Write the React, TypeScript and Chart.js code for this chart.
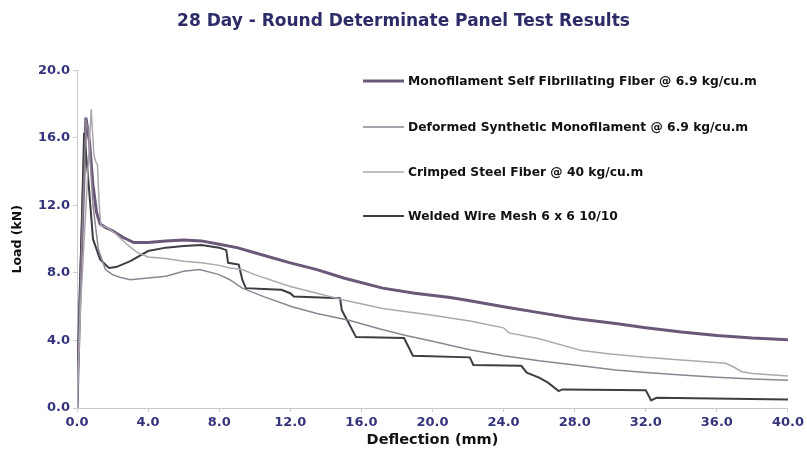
import React, { useEffect, useRef } from "react";
import { Chart, registerables } from "chart.js";

Chart.register(...registerables);

const TITLE = "28 Day - Round Determinate Panel Test Results";
const X_TITLE = "Deflection (mm)";
const Y_TITLE = "Load (kN)";

const seriesNames = [
  "Monofilament Self Fibrillating Fiber @ 6.9 kg/cu.m",
  "Deformed Synthetic Monofilament @ 6.9 kg/cu.m",
  "Crimped Steel Fiber @ 40 kg/cu.m",
  "Welded Wire Mesh 6 x 6 10/10",
];

// Monofilament self fibrillating (thick purple)
const monoX = [0, 0.15, 0.5, 0.7, 0.9, 1.1, 1.3, 1.6, 2.0, 2.6, 3.2, 4, 5, 6, 7, 8, 9, 10, 12, 13.5, 15, 17.2, 19, 21, 22.1, 24, 26, 28, 30.3, 32, 34, 36, 38, 40];
const monoY = [0, 6, 17.2, 15.8, 13.2, 11.6, 10.9, 10.7, 10.5, 10.1, 9.8, 9.8, 9.9, 9.95, 9.9, 9.7, 9.5, 9.2, 8.6, 8.2, 7.7, 7.1, 6.8, 6.55, 6.35, 6.0, 5.65, 5.3, 5.0, 4.75, 4.5, 4.3, 4.15, 4.05];

// Deformed synthetic monofilament (mid grey)
const defX = [0, 0.15, 0.5, 0.65, 0.9, 1.2, 1.6, 2.0, 2.4, 3, 4, 5, 6, 6.9, 8, 8.6, 9.3, 10.5, 12.1, 13.5, 15.3, 17, 18.5, 20, 22.1, 24, 26, 28, 30.3, 32, 34, 36, 38, 40];
const defY = [0, 6, 17.0, 16.4, 12.0, 9.4, 8.2, 7.9, 7.75, 7.6, 7.7, 7.8, 8.1, 8.2, 7.9, 7.6, 7.1, 6.6, 6.0, 5.6, 5.2, 4.7, 4.3, 3.95, 3.45, 3.1, 2.8, 2.55, 2.25, 2.1, 1.95, 1.82, 1.72, 1.65];

// Crimped steel fiber (light grey)
const steelX = [0, 0.2, 0.8, 0.95, 1.05, 1.15, 1.25, 1.35, 1.7, 2.2, 2.8, 3.4, 4, 5, 6, 7, 8, 8.6, 9.3, 10, 12, 13.5, 15, 17.2, 20, 22.1, 24, 24.3, 26, 28.4, 30, 32, 34, 36.5, 37, 37.4, 38, 40];
const steelY = [0, 6, 17.7, 15.0, 14.6, 14.4, 12.0, 10.8, 10.7, 10.3, 9.7, 9.2, 8.95, 8.85, 8.7, 8.6, 8.45, 8.3, 8.2, 7.9, 7.2, 6.8, 6.4, 5.9, 5.5, 5.15, 4.75, 4.45, 4.1, 3.4, 3.2, 3.0, 2.85, 2.65, 2.4, 2.15, 2.05, 1.9];

// Welded wire mesh (dark grey)
const meshX = [0, 0.4, 0.6, 0.9, 1.3, 1.8, 2.2, 3, 4, 5, 6, 7, 8, 8.4, 8.5, 9.1, 9.3, 9.5, 10.5, 11.5, 12.0, 12.2, 14.8, 14.9, 15.2, 15.7, 18.4, 18.9, 22.1, 22.3, 25, 25.3, 26, 26.5, 27.1, 27.3, 32.0, 32.3, 32.6, 40];
const meshY = [0, 16.3, 14.0, 10.0, 8.8, 8.3, 8.35, 8.7, 9.3, 9.5, 9.6, 9.65, 9.5, 9.35, 8.6, 8.5, 7.6, 7.1, 7.05, 7.0, 6.8, 6.6, 6.5, 5.8, 5.2, 4.2, 4.15, 3.1, 3.0, 2.55, 2.5, 2.1, 1.8, 1.5, 1.0, 1.1, 1.05, 0.45, 0.6, 0.5];

const xTicksMax = 40;
const yTicksMax = 20;
const tickStep = 4;

const seriesColors = ["#6b5878", "#8d8592", "#aca7b0", "#3f3c44"];
const seriesWidths = [3, 1.5, 1.5, 2];

const toPts = (xs: number[], ys: number[]) => xs.map((x, i) => ({ x, y: ys[i] }));

const NAVY = "#34347c";
const FONT = "'DejaVu Sans', 'Liberation Sans', Arial, sans-serif";

const legendPlugin = {
  id: "customLegend",
  afterDraw(chart: any) {
    const ctx = chart.ctx;
    const rows = [81, 127, 172, 216];
    ctx.save();
    ctx.font = `bold 12.3px ${FONT}`;
    ctx.textBaseline = "middle";
    ctx.textAlign = "left";
    seriesNames.forEach((name, i) => {
      const y = rows[i];
      ctx.strokeStyle = seriesColors[i];
      ctx.lineWidth = seriesWidths[i];
      ctx.beginPath();
      ctx.moveTo(363, y);
      ctx.lineTo(404, y);
      ctx.stroke();
      ctx.fillStyle = "#111";
      ctx.fillText(name, 408, y + 1);
    });
    ctx.restore();
  },
};

export default function App() {
  const ref = useRef<HTMLCanvasElement>(null);
  useEffect(() => {
    document.body.style.margin = "0";
    const datasets = [
      toPts(monoX, monoY),
      toPts(defX, defY),
      toPts(steelX, steelY),
      toPts(meshX, meshY),
    ].map((data, i) => ({
      label: seriesNames[i],
      data,
      borderColor: seriesColors[i],
      borderWidth: seriesWidths[i],
      pointRadius: 0,
      tension: 0,
      fill: false,
    }));
    const ordered = [datasets[2], datasets[1], datasets[3], datasets[0]];
    const chart = new Chart(ref.current!, {
      type: "line",
      data: { datasets: ordered },
      plugins: [legendPlugin],
      options: {
        animation: false,
        responsive: false,
        layout: { padding: { left: 0, right: 0, top: 0, bottom: 0 } },
        plugins: {
          legend: { display: false },
          tooltip: { enabled: false },
          title: {
            display: true,
            text: TITLE,
            color: "#2c2c68",
            font: { family: FONT, size: 17, weight: "bold" },
            padding: { top: 11, bottom: 39 },
          },
        },
        scales: {
          x: {
            type: "linear",
            min: 0,
            max: xTicksMax,
            afterFit: (s: any) => { s.height = 58; },
            ticks: {
              stepSize: tickStep,
              color: NAVY,
              font: { family: FONT, size: 13, weight: "bold" },
              padding: 3,
              callback: (v: any) => Number(v).toFixed(1),
              maxRotation: 0,
            },
            grid: { drawOnChartArea: false, drawTicks: true, tickLength: 4, color: "#c9c9d2" },
            border: { color: "#c9c9d2", width: 1 },
            title: {
              display: true,
              text: X_TITLE,
              color: "#111",
              font: { family: FONT, size: 14.5, weight: "bold" },
              padding: { top: 0, bottom: 17 },
            },
          },
          y: {
            type: "linear",
            min: 0,
            max: yTicksMax,
            afterFit: (s: any) => { s.width = 77; },
            ticks: {
              stepSize: tickStep,
              color: NAVY,
              font: { family: FONT, size: 13, weight: "bold" },
              padding: 3,
              callback: (v: any) => Number(v).toFixed(1),
            },
            grid: { drawOnChartArea: false, drawTicks: true, tickLength: 4, color: "#c9c9d2" },
            border: { color: "#c9c9d2", width: 1 },
            title: {
              display: true,
              text: Y_TITLE,
              color: "#111",
              font: { family: FONT, size: 12.5, weight: "bold" },
              padding: { top: 10, bottom: 0 },
            },
          },
        },
      },
    } as any);
    return () => chart.destroy();
  }, []);
  return (
    <div style={{ width: 807, height: 466, background: "#fff" }}>
      <canvas ref={ref} width={807} height={466} style={{ display: "block" }} />
    </div>
  );
}
